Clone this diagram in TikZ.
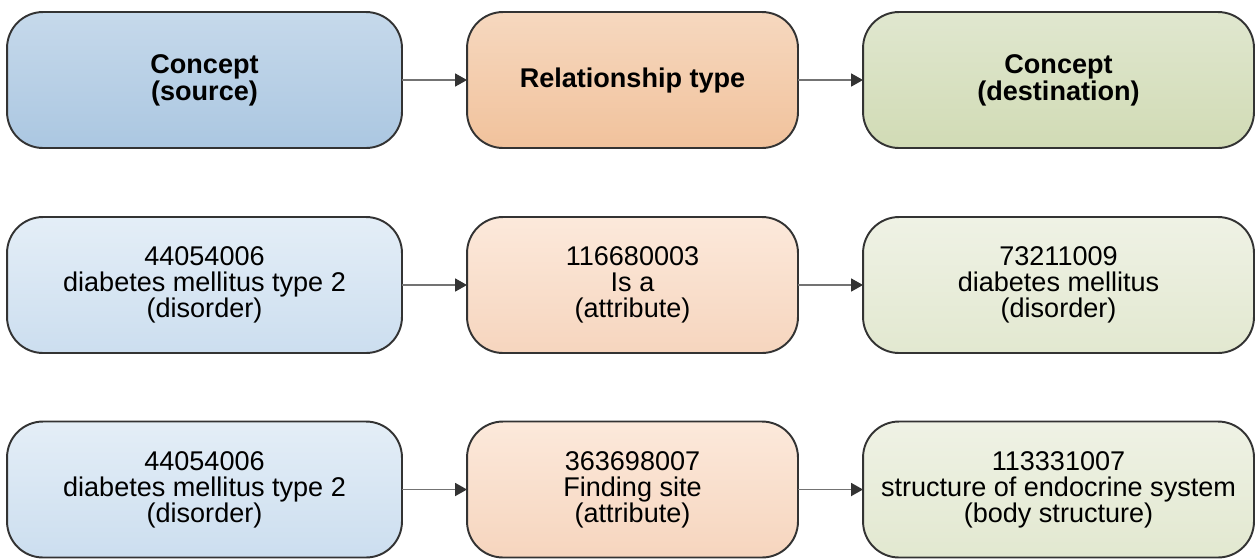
\documentclass[tikz,border=0pt]{standalone}
\usepackage{fontspec}
\setmainfont{Liberation Sans}
\usetikzlibrary{arrows.meta}
\definecolor{srctop}{HTML}{C6D9EB}
\definecolor{srcbot}{HTML}{ABC7E1}
\definecolor{reltop}{HTML}{F6D8BF}
\definecolor{relbot}{HTML}{F1C29C}
\definecolor{dsttop}{HTML}{E0E7CF}
\definecolor{dstbot}{HTML}{D1DBB5}
\definecolor{srclighttop}{HTML}{E4EEF7}
\definecolor{srclightbot}{HTML}{CCDEEF}
\definecolor{rellighttop}{HTML}{FCE9DB}
\definecolor{rellightbot}{HTML}{F6D5BE}
\definecolor{dstlighttop}{HTML}{EFF2E5}
\definecolor{dstlightbot}{HTML}{E2E8D0}
\begin{document}
\begin{tikzpicture}[x=0.02cm,y=-0.02cm,
 box/.style={draw=black!80,line width=1.1pt,rounded corners=0.72cm,inner sep=0pt,outer sep=0pt,
  minimum height=2.72cm,align=center,font=\fontsize{15.4}{14.8}\selectfont},
 head/.style={box,font=\fontsize{15.4}{14}\selectfont\bfseries},
 srcbox/.style={minimum width=7.9cm},
 relbox/.style={minimum width=6.62cm},
 dstbox/.style={minimum width=7.82cm},
 link/.style={draw=black!55,line width=1pt,-{Triangle[length=0.24cm,width=0.26cm,color=black!80]}}]
 \useasboundingbox (0,0) rectangle (1256,559);
 % header row
 \node[head,srcbox,top color=srctop,bottom color=srcbot] (src0) at (204.5,80) {Concept\\(source)};
 \node[head,relbox,top color=reltop,bottom color=relbot] (rel0) at (632.5,80) {Relationship type};
 \node[head,dstbox,top color=dsttop,bottom color=dstbot] (dst0) at (1058.5,80) {Concept\\(destination)};
 % is a
 \node[box,srcbox,top color=srclighttop,bottom color=srclightbot] (src1) at (204.5,285) {44054006\\diabetes mellitus type 2\\(disorder)};
 \node[box,relbox,top color=rellighttop,bottom color=rellightbot] (rel1) at (632.5,285) {116680003\\Is a\\(attribute)};
 \node[box,dstbox,top color=dstlighttop,bottom color=dstlightbot] (dst1) at (1058.5,285) {73211009\\diabetes mellitus\\(disorder)};
 % finding site
 \node[box,srcbox,top color=srclighttop,bottom color=srclightbot] (src2) at (204.5,489.5) {44054006\\diabetes mellitus type 2\\(disorder)};
 \node[box,relbox,top color=rellighttop,bottom color=rellightbot] (rel2) at (632.5,489.5) {363698007\\Finding site\\(attribute)};
 \node[box,dstbox,top color=dstlighttop,bottom color=dstlightbot] (dst2) at (1058.5,489.5) {113331007\\structure of endocrine system\\(body structure)};
 \foreach \i in {0,1,2}{
  \draw[link] (src\i) -- (rel\i);
  \draw[link] (rel\i) -- (dst\i);
 }
\end{tikzpicture}
\end{document}
